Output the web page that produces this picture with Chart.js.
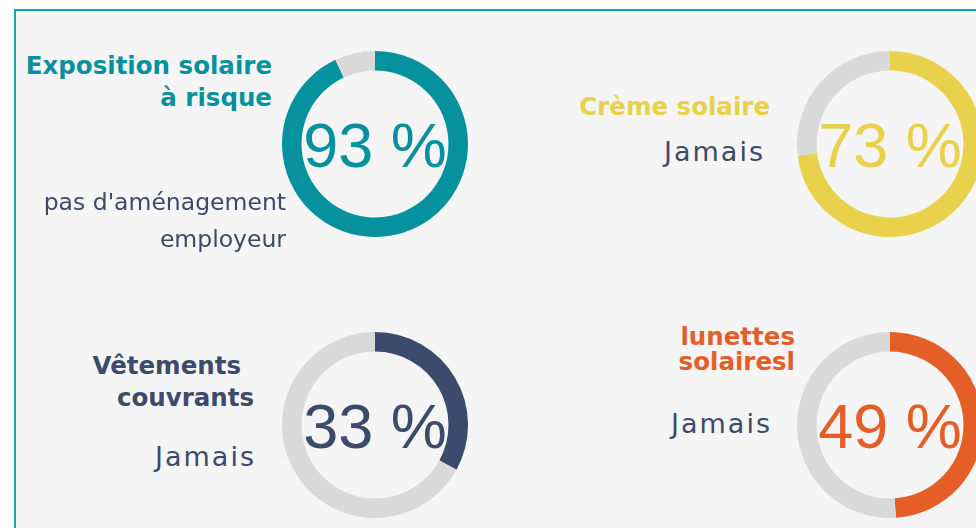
<!DOCTYPE html>
<html lang="fr">
<head>
<meta charset="utf-8">
<script src="https://cdn.jsdelivr.net/npm/chart.js@4.4.0/dist/chart.umd.min.js"></script>
<style>
    body {
        margin: 0;
        width: 976px;
        height: 528px;
        overflow: hidden;
        background: #ffffff;
        position: relative;
        font-family: 'DejaVu Sans', sans-serif;
    }
    .panel {
        position: absolute;
        left: 14px;
        top: 9px;
        right: -20px;
        bottom: -20px;
        background: #f5f5f5;
        border-left: 2px solid #16a6b1;
        border-top: 2px solid #16a6b1;
    }
    .gauge {
        position: absolute;
        width: 186px;
        height: 186px;
    }
    .line {
        position: absolute;
        white-space: nowrap;
        text-align: right;
        transform: translateY(-50%);
        line-height: 1;
    }
    .title { font-weight: 700; font-size: 24.5px; }
    .sub { font-weight: 400; font-size: 23.5px; color: #3c4a6a; }
    .answer { font-weight: 400; font-size: 27px; letter-spacing: 2px; color: #3c4a6a; }
</style>
</head>
<body>
<div class="panel"></div>
<div id="board"></div>
<script>
// Data
const topics = ['Exposition solaire à risque', 'Crème solaire', 'Vêtements couvrants', 'lunettes solairesl'];
const percents = [93, 73, 33, 49];
const answers = ["pas d'aménagement employeur", 'Jamais', 'Jamais', 'Jamais'];

// Styles
const colors = ['#05929e', '#e9d14b', '#3c4b6b', '#e55d27'];
const restColor = '#d9d9d9';

// Layout: gauge centres and text lines (text, right edge, centre y, class)
const centres = [[375, 144], [890, 144], [375, 425], [890, 425]];
const textLines = [
    [[topics[0].slice(0, 18), 272, 66, 'title'], [topics[0].slice(19), 272, 98, 'title'],
     ["pas d'aménagement", 286, 203, 'sub'], ['employeur', 286, 240, 'sub']],
    [[topics[1], 770, 107, 'title'], [answers[1], 763, 151, 'answer']],
    [['Vêtements', 241, 366, 'title'], ['couvrants', 254, 398, 'title'], [answers[2], 254, 456, 'answer']],
    [['lunettes', 795, 337, 'title'], ['solairesl', 795, 362, 'title'], [answers[3], 770, 423, 'answer']]
];

// Percentage in the middle of the ring
const centreText = {
    id: 'centreText',
    afterDraw(chart) {
        const arc = chart.getDatasetMeta(0).data[0];
        const ctx = chart.ctx;
        const size = 63;
        ctx.save();
        ctx.font = size + 'px "Liberation Sans", Arial, sans-serif';
        ctx.fillStyle = chart.data.datasets[0].backgroundColor[0];
        ctx.textAlign = 'center';
        ctx.textBaseline = 'alphabetic';
        ctx.fillText(chart.data.datasets[0].data[0] + ' %', arc.x, arc.y + size * 0.358);
        ctx.restore();
    }
};

const board = document.getElementById('board');

percents.forEach((value, i) => {
    const wrap = document.createElement('div');
    wrap.className = 'gauge';
    wrap.style.left = (centres[i][0] - 93) + 'px';
    wrap.style.top = (centres[i][1] - 93) + 'px';
    const canvas = document.createElement('canvas');
    wrap.appendChild(canvas);
    board.appendChild(wrap);

    textLines[i].forEach(([text, right, cy, cls]) => {
        const el = document.createElement('div');
        el.className = 'line ' + cls;
        el.textContent = text;
        // letter-spacing adds trailing space after the last glyph
        const shift = cls === 'answer' ? -2 : 0;
        el.style.right = (976 - right + shift) + 'px';
        el.style.top = cy + 'px';
        if (cls === 'title') el.style.color = colors[i];
        board.appendChild(el);
    });

    new Chart(canvas, {
        type: 'doughnut',
        data: {
            labels: [topics[i], 'Autre'],
            datasets: [{
                data: [value, 100 - value],
                backgroundColor: [colors[i], restColor],
                borderWidth: 0
            }]
        },
        options: {
            responsive: true,
            maintainAspectRatio: false,
            animation: false,
            cutout: '79%',
            layout: { padding: 0 },
            events: [],
            plugins: {
                legend: { display: false },
                tooltip: { enabled: false }
            }
        },
        plugins: [centreText]
    });
});
</script>
</body>
</html>
